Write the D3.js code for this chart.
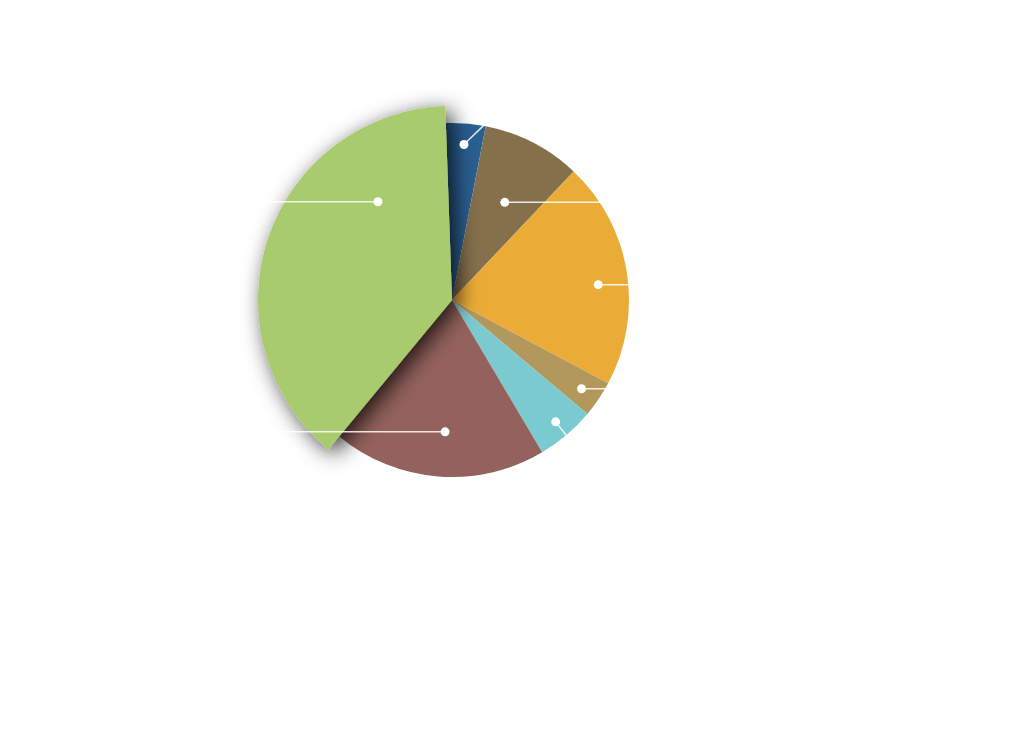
<html>
    <head>
        <title>Pie</title>
        <script src="https://cdnjs.cloudflare.com/ajax/libs/d3/7.8.5/d3.min.js" type="text/JavaScript"></script>
        <style>
            body { margin: 0; background: #fff; }
        </style>
    </head>

    <body>
        <svg style="width:1024px;height:744px"></svg>

        <script>
            // slices clockwise from the top
            var categories = ["Blue", "Brown", "Orange", "Tan", "Cyan", "Rose", "Green"];
            var values = [3.61, 9.0, 20.75, 3.33, 5.36, 19.5, 38.45];
            var colors = ["#2a5f91", "#85704c", "#ebab37", "#b3985b", "#7bcacf", "#94625c", "#a8cb6d"];
            var selected = "Green";

            // label dot: angle (deg) and distance from centre, leader direction (deg from horizontal) and side
            var labelAngle = [4.4, 28.4, 84, 124.4, 139.6, 183, 323];
            var labelRadius = [156, 111, 147, 157, 160, 132, 123];
            var leaderDir = [-44, 0, 0, 0, 52, 0, 0];
            var leaderSide = [1, 1, 1, 1, 1, -1, -1];

            var cx = 452, cy = 300, radius = 177, bigRadius = 194;
            var toRad = d => d * Math.PI / 180;

            var data = categories.map((c, i) => ({name: c, value: values[i], color: colors[i]}));

            var svg = d3.select("svg");

            var defs = svg.append("defs");
            defs.append("filter")
                .attr("id", "shadow")
                .attr("x", "-30%").attr("y", "-30%")
                .attr("width", "160%").attr("height", "160%")
                .append("feDropShadow")
                .attr("dx", 6)
                .attr("dy", 5)
                .attr("stdDeviation", 11)
                .attr("flood-color", "#000")
                .attr("flood-opacity", 0.8);

            var pie = d3.pie()
                        .sort(null)
                        .value(d => d.value)
                        .startAngle(toRad(-2))
                        .endAngle(toRad(358));

            var arc = d3.arc().innerRadius(0).outerRadius(radius);
            var bigArc = d3.arc().innerRadius(0).outerRadius(bigRadius);

            var g = svg.append("g").attr("transform", "translate(" + cx + "," + cy + ")");

            var arcs = pie(data);

            g.selectAll("path.slice")
             .data(arcs.filter(d => d.data.name != selected))
             .enter()
             .append("path")
             .attr("class", "slice")
             .attr("d", arc)
             .attr("fill", d => d.data.color);

            g.selectAll("path.sel")
             .data(arcs.filter(d => d.data.name == selected))
             .enter()
             .append("path")
             .attr("class", "sel")
             .attr("d", bigArc)
             .attr("fill", d => d.data.color)
             .attr("filter", "url(#shadow)");

            // leader lines and dots
            var labels = data.map((d, i) => {
                var a = toRad(labelAngle[i]);
                var x = labelRadius[i] * Math.sin(a);
                var y = -labelRadius[i] * Math.cos(a);
                var pts = [[x, y]];
                if (leaderDir[i] != 0) {
                    var t = toRad(leaderDir[i]);
                    x = x + 30 * Math.cos(t) * leaderSide[i];
                    y = y + 30 * Math.sin(t);
                    pts.push([x, y]);
                }
                pts.push([leaderSide[i] * 240, y]);
                return {name: d.name, pts: pts};
            });

            g.selectAll("path.leader")
             .data(labels)
             .enter()
             .append("path")
             .attr("class", "leader")
             .attr("d", d => d3.line()(d.pts))
             .attr("fill", "none")
             .attr("stroke", "#fff")
             .attr("stroke-opacity", 0.85)
             .attr("stroke-width", 1.5);

            g.selectAll("circle")
             .data(labels)
             .enter()
             .append("circle")
             .attr("r", 4.5)
             .attr("cx", d => d.pts[0][0])
             .attr("cy", d => d.pts[0][1])
             .attr("fill", "#fff");
        </script>
    </body>
</html>
